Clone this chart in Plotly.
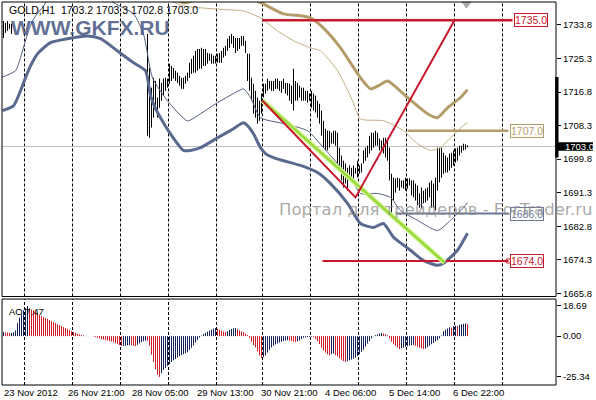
import plotly.graph_objects as go

# ---------------- data ----------------
title_text = "GOLD,H1  1703.2 1703.3 1702.8 1703.0"

# H1 price bars (bar index -> high / low). Bars 5..71 lie above the visible price range.
left_bar_start = 0
left_hi = [1734.8, 1734.3, 1734.8, 1734.1, 1734.1]
left_lo = [1730.5, 1731.8, 1732.3, 1732.8, 1731.5]

main_bar_start = 72
bar_hi = [
    1731.5, 1722.9, 1717.9, 1720.4, 1719.6, 1715.4, 1720.2, 1719.1, 1720.2, 1720.4,
    1720.2, 1724.0, 1723.4, 1722.9, 1722.2, 1721.7, 1720.9, 1720.4, 1720.4, 1720.9,
    1721.7, 1724.2, 1725.2, 1726.0, 1727.2, 1727.7, 1727.7, 1728.0, 1727.7, 1727.7,
    1726.7, 1726.5, 1726.5, 1726.0, 1726.0, 1726.5, 1726.7, 1727.2, 1728.0, 1728.5,
    1730.3, 1731.0, 1731.5, 1731.0, 1730.5, 1730.5, 1730.5, 1731.0, 1731.0, 1729.8,
    1726.5, 1726.5, 1720.4, 1718.9, 1717.1, 1715.4, 1714.6, 1716.4, 1718.9, 1718.9,
    1720.2, 1719.6, 1719.6, 1719.6, 1720.2, 1720.2, 1719.6, 1719.6, 1720.2, 1719.1,
    1719.1, 1718.9, 1718.4, 1722.7, 1719.6, 1719.1, 1718.4, 1717.9, 1717.9, 1717.1,
    1717.1, 1716.4, 1717.1, 1716.4, 1715.9, 1714.6, 1713.8, 1712.1, 1709.5, 1707.5,
    1707.0, 1707.0, 1706.5, 1707.0, 1707.0, 1706.5, 1702.7, 1700.7, 1699.4, 1698.7,
    1697.6, 1698.2, 1697.6, 1698.2, 1697.6, 1699.4, 1698.2, 1698.7, 1702.0, 1702.7,
    1703.2, 1705.7, 1706.5, 1706.5, 1707.0, 1706.5, 1705.0, 1704.5, 1705.2, 1705.2,
    1704.5, 1702.7, 1696.1, 1695.1, 1694.9, 1695.1, 1694.9, 1694.4, 1694.4, 1695.1,
    1694.9, 1694.9, 1694.4, 1694.4, 1693.6, 1693.1, 1691.1, 1692.6, 1691.8, 1692.3,
    1692.6, 1693.9, 1694.4, 1693.6, 1695.1, 1702.7, 1702.7, 1702.7, 1701.4, 1700.7,
    1700.2, 1701.2, 1701.4, 1702.0, 1702.5, 1702.7, 1703.2, 1703.2, 1703.7, 1703.5,
    1703.3,
]
bar_lo = [
    1705.7, 1705.2, 1707.8, 1710.3, 1712.1, 1710.3, 1712.8, 1714.6, 1715.9, 1717.1,
    1717.9, 1718.9, 1719.6, 1720.2, 1719.6, 1719.1, 1718.4, 1717.6, 1717.6, 1718.9,
    1719.6, 1720.4, 1721.4, 1721.7, 1721.7, 1722.2, 1722.7, 1722.7, 1723.4, 1723.4,
    1724.0, 1724.7, 1724.0, 1724.0, 1724.0, 1724.2, 1724.2, 1724.2, 1725.5, 1726.0,
    1727.2, 1728.0, 1729.0, 1728.0, 1726.7, 1727.2, 1727.7, 1728.5, 1728.5, 1726.7,
    1719.6, 1717.1, 1714.6, 1711.3, 1710.3, 1708.8, 1709.5, 1711.3, 1715.4, 1716.4,
    1717.1, 1717.6, 1717.1, 1717.1, 1717.6, 1717.6, 1717.1, 1716.6, 1717.6, 1716.4,
    1715.9, 1714.6, 1713.8, 1712.1, 1714.6, 1714.6, 1715.4, 1714.6, 1714.6, 1714.6,
    1714.1, 1714.6, 1712.8, 1712.1, 1711.6, 1710.3, 1708.8, 1705.7, 1702.7, 1702.0,
    1702.0, 1702.7, 1703.7, 1703.7, 1703.2, 1698.7, 1697.6, 1694.4, 1692.6, 1693.6,
    1691.8, 1694.4, 1695.1, 1694.4, 1696.1, 1695.1, 1696.1, 1696.4, 1698.7, 1699.4,
    1700.2, 1701.2, 1702.0, 1702.7, 1703.2, 1703.2, 1702.0, 1702.0, 1701.2, 1700.2,
    1699.4, 1694.4, 1685.5, 1689.3, 1691.3, 1692.6, 1691.8, 1692.6, 1692.3, 1691.8,
    1692.3, 1693.1, 1690.6, 1690.1, 1689.3, 1688.1, 1687.5, 1687.3, 1688.6, 1688.8,
    1689.3, 1690.1, 1687.5, 1687.5, 1686.8, 1691.8, 1693.9, 1695.1, 1696.1, 1696.4,
    1696.4, 1696.9, 1697.6, 1698.2, 1698.9, 1699.4, 1700.7, 1701.4, 1702.0, 1702.2,
    1702.8,
]

# Awesome Oscillator, one value per bar from bar 0
ao_values = [
    2.5, 2.3, 2.2, 2.0, 2.1, 2.4, 3.5, 8.0, 11.5, 13.5,
    16.0, 17.5, 18.69, 17.2, 16.5, 16.0, 15.2, 14.3, 13.3, 12.5,
    11.8, 11.2, 10.7, 10.0, 9.3, 8.7, 8.1, 7.4, 6.8, 6.2,
    5.6, 5.0, 4.5, 3.8, 3.1, 2.5, 2.0, 1.5, 1.1, 0.7,
    0.4, 0.2, 0.05, 0.0, -0.05, -0.3, -0.6, -1.0, -1.5, -1.9,
    -2.2, -2.5, -2.7, -3.0, -3.4, -3.7, -4.3, -5.0, -5.6, -6.1,
    -6.0, -5.9, -5.7, -5.5, -5.7, -6.0, -6.3, -5.4, -4.5, -3.8,
    -3.2, -2.8, -2.9, -6.0, -11.5, -16.0, -20.5, -24.0, -25.34, -23.0,
    -21.0, -19.8, -18.5, -17.3, -16.0, -15.0, -14.2, -13.3, -12.4, -11.8,
    -11.2, -10.6, -10.0, -8.6, -7.2, -5.8, -4.0, -2.5, -1.0, 0.3,
    1.4, 2.0, 2.8, 3.5, 4.1, 4.6, 5.0, 4.5, 3.9, 3.4,
    2.9, 2.5, 3.0, 3.8, 4.4, 4.8, 5.0, 4.3, 3.6, 3.0,
    2.5, 1.6, 0.7, -1.2, -3.5, -5.5, -7.0, -9.5, -12.0, -13.6,
    -13.0, -12.0, -10.2, -8.5, -7.0, -6.0, -5.2, -4.5, -4.0, -3.5,
    -3.1, -2.8, -2.6, -2.7, -3.0, -3.4, -3.7, -3.3, -2.7, -1.8,
    -1.0, -0.8, -0.6, -0.5, -0.4, -0.6, -1.8, -3.2, -5.0, -7.2,
    -8.9, -10.2, -11.3, -12.0, -11.2, -10.8, -11.8, -12.6, -13.6, -14.6,
    -15.5, -16.1, -15.6, -15.0, -14.5, -14.0, -13.3, -12.3, -11.2, -9.8,
    -8.5, -6.5, -4.6, -3.0, -1.4, -0.2, 0.6, 1.1, 1.6, 1.9,
    1.6, 1.2, 0.6, -1.5, -3.5, -4.8, -6.0, -7.0, -8.0, -7.6,
    -7.2, -6.7, -6.3, -5.9, -5.6, -5.4, -6.0, -6.6, -7.1, -7.6,
    -8.0, -7.8, -6.9, -6.0, -5.0, -4.3, -3.3, -2.5, -1.3, 0.4,
    3.1, 4.0, 4.7, 5.5, 5.2, 6.2, 6.6, 6.3, 7.0, 7.3,
    7.6, 7.9, 7.47,
]

# Envelope / band lines (bar index, price)
lower2_x = [-0.5, 5, 8.5, 11, 13.5, 17, 23.5, 32, 42, 48.5, 57, 65, 71, 73.5, 76, 78.5, 83.5, 90, 93.5, 98.5,
            107, 115, 120, 122.5, 125, 128.5, 131, 135, 143.5, 148.5, 157, 163.5, 172, 178.5, 185, 190, 195,
            203.5, 210, 217, 220, 227, 232]
lower2_y = [1712.1, 1713.3, 1717.1, 1720.4, 1723.4, 1726.5, 1729.3, 1730.3, 1731.0, 1730.3, 1727.2, 1724.2,
            1722.2, 1715.9, 1712.6, 1710.3, 1706.2, 1702.0, 1702.0, 1702.7, 1705.2, 1707.5, 1709.0, 1708.0,
            1706.2, 1702.7, 1701.2, 1700.2, 1698.9, 1698.2, 1696.4, 1693.6, 1688.6, 1683.5, 1682.5, 1683.5,
            1680.0, 1676.7, 1674.1, 1672.9, 1673.4, 1676.7, 1681.0]
lower1_x = [-1.5, 6, 8.5, 12, 15, 20, 23.5, 33.5, 43.5, 53.5, 65, 70, 74.5, 82, 92, 98.5, 107, 115, 120, 123.5,
            128.5, 140, 152, 160, 167, 173.5, 178.5, 187, 193.5, 198.5, 207, 217, 223.5, 230, 232]
lower1_y = [1720.4, 1722.2, 1725.5, 1731.5, 1735.3, 1738.6, 1741.1, 1745.0, 1745.0, 1739.9, 1736.6, 1731.5,
            1720.4, 1714.6, 1709.5, 1711.3, 1714.1, 1716.4, 1717.6, 1715.4, 1710.3, 1708.8, 1707.0, 1702.7,
            1698.7, 1695.1, 1691.1, 1691.1, 1690.1, 1686.8, 1684.3, 1681.7, 1684.3, 1687.5, 1688.8]
upper1_x = [0, 30, 60, 68.5, 78.5, 83.5, 90, 107, 120, 128.5, 137, 145, 153.5, 158.5, 167, 174.5, 178.5, 190,
            200, 207, 213.5, 218.5, 223.5, 230, 232]
upper1_y = [1752, 1760, 1755, 1747.5, 1741.1, 1739.9, 1738.6, 1737.8, 1737.3, 1735.6, 1732.3, 1729.8, 1728.0,
            1727.2, 1722.2, 1714.6, 1710.0, 1709.5, 1707.0, 1703.7, 1702.0, 1702.7, 1705.2, 1708.3, 1709.0]
upper2_x = [0, 30, 60, 68.5, 78.5, 86, 90, 94.5, 98.5, 106, 118.5, 126, 130, 140, 148.5, 153.5, 160, 168.5,
            178.5, 183.5, 187.5, 192, 202, 212, 217, 222, 228.5, 232]
upper2_y = [1748, 1760, 1760, 1750, 1743.7, 1740.4, 1739.4, 1739.9, 1741.1, 1742.4, 1741.9, 1740.1, 1739.1,
            1736.6, 1736.1, 1735.6, 1733.0, 1728.0, 1720.4, 1717.6, 1718.4, 1719.6, 1715.4, 1711.3, 1710.3,
            1712.8, 1715.4, 1717.4]

# Drawn objects
red_trend_x = [129.5, 176.0, 225.5]
red_trend_y = [1714.6, 1690.1, 1735.0]
green_trend_x = [129.5, 220.5]
green_trend_y = [1714.6, 1673.6]
levels = [1735.0, 1707.0, 1686.0, 1674.0]
level_start = [129.5, 202.0, 196.0, 159.5]
level_end = [254.5, 252.5, 252.5, 252.5]
level_colors = ["#c8182c", "#b59d6b", "#6a7894", "#c8182c"]
level_widths = [2.5, 2.5, 2, 2]

current_price = 1703.0
axis_range_marker = [1700.2, 1720.6]   # dark marker drawn on the price scale

# axes
date_labels = ["23 Nov 2012", "26 Nov 21:00", "28 Nov 05:00", "29 Nov 13:00", "30 Nov 21:00",
               "4 Dec 06:00", "5 Dec 14:00", "6 Dec 22:00"]
date_label_bars = [-0.75, 31, 63, 95.5, 127.5, 159.5, 191.5, 223.5]
grid_bars = [10.5, 34.5, 58.5, 82.5, 106.5, 129.5, 153.5, 177.5, 201.5, 225.5, 249.5]
price_ticks = [1733.8, 1725.3, 1716.8, 1708.3, 1699.8, 1691.3, 1682.8, 1674.3, 1665.8]
ao_ticks = [18.69, 0.0, -25.34]
ao_tick_text = ["18.69", "0.00", "-25.34"]

FONT = "Liberation Sans, Arial, sans-serif"
AO_UP = "#14225a"
AO_DOWN = "#d01c28"

# ---------------- figure ----------------
fig = go.Figure()

# price bars as vertical high-low strokes
bx, by = [], []
for i, (h, l) in enumerate(zip(left_hi, left_lo)):
    b = left_bar_start + i
    bx += [b, b, None]
    by += [l, h, None]
for i, (h, l) in enumerate(zip(bar_hi, bar_lo)):
    b = main_bar_start + i
    bx += [b, b, None]
    by += [l, h, None]
fig.add_trace(go.Scatter(x=bx, y=by, mode="lines", line=dict(color="black", width=1),
                         hoverinfo="skip", showlegend=False, xaxis="x", yaxis="y"))

# bands
for xs, ys, col, w in [(upper2_x, upper2_y, "#b39c6a", 3),
                       (upper1_x, upper1_y, "#c4ae84", 1),
                       (lower1_x, lower1_y, "#4f5d7c", 1),
                       (lower2_x, lower2_y, "#5a6a8e", 3)]:
    fig.add_trace(go.Scatter(x=xs, y=ys, mode="lines",
                             line=dict(color=col, width=w, shape="spline", smoothing=0.6),
                             hoverinfo="skip", showlegend=False, xaxis="x", yaxis="y"))

# horizontal levels
for lv, x0, x1, col, w in zip(levels, level_start, level_end, level_colors, level_widths):
    fig.add_trace(go.Scatter(x=[x0, x1], y=[lv, lv], mode="lines", line=dict(color=col, width=w),
                             hoverinfo="skip", showlegend=False, xaxis="x", yaxis="y"))

# trend lines
fig.add_trace(go.Scatter(x=green_trend_x, y=green_trend_y, mode="lines",
                         line=dict(color="#d4f59a", width=5), hoverinfo="skip", showlegend=False))
fig.add_trace(go.Scatter(x=green_trend_x, y=green_trend_y, mode="lines",
                         line=dict(color="#99d93a", width=2.5), hoverinfo="skip", showlegend=False))
fig.add_trace(go.Scatter(x=red_trend_x, y=red_trend_y, mode="lines",
                         line=dict(color="#c8182c", width=2), hoverinfo="skip", showlegend=False))

# small anchor square on the 1674 level
fig.add_trace(go.Scatter(x=[level_end[3]], y=[levels[3]], mode="markers",
                         marker=dict(symbol="square-open", size=4, color="#c8182c", line=dict(width=1)),
                         hoverinfo="skip", showlegend=False))

# chart-shift triangle
fig.add_trace(go.Scatter(x=[231.5], y=[1739.1], mode="markers",
                         marker=dict(symbol="triangle-down", size=9, color="#a8a8a8"),
                         cliponaxis=False, hoverinfo="skip", showlegend=False))

# AO histogram: 1px strokes from zero, coloured by direction
ux, uy, dx, dy = [], [], [], []
for i, v in enumerate(ao_values):
    if i == 0 or v >= ao_values[i - 1]:
        ux += [i, i, None]
        uy += [0, v, None]
    else:
        dx += [i, i, None]
        dy += [0, v, None]
fig.add_trace(go.Scatter(x=ux, y=uy, mode="lines", line=dict(color=AO_UP, width=1),
                         hoverinfo="skip", showlegend=False, xaxis="x", yaxis="y2"))
fig.add_trace(go.Scatter(x=dx, y=dy, mode="lines", line=dict(color=AO_DOWN, width=1),
                         hoverinfo="skip", showlegend=False, xaxis="x", yaxis="y2"))

# ---------------- layout ----------------
MAIN_DOM = [0.2311, 1.0]
AO_DOM = [0.0, 0.2245]

shapes = []
for g in grid_bars:
    for yr in ("y domain", "y2 domain"):
        shapes.append(dict(type="line", xref="x", yref=yr, x0=g, x1=g, y0=0, y1=1,
                           line=dict(color="black", width=1, dash="3px,2px"), layer="below"))
shapes.append(dict(type="line", xref="paper", yref="y", x0=0, x1=1, y0=current_price, y1=current_price,
                   line=dict(color="#c0c0c0", width=1), layer="below"))
shapes.append(dict(type="rect", xref="paper", yref="paper", x0=0, x1=1, y0=MAIN_DOM[0], y1=MAIN_DOM[1],
                   line=dict(color="black", width=1)))
shapes.append(dict(type="rect", xref="paper", yref="paper", x0=0, x1=1, y0=AO_DOM[0], y1=AO_DOM[1],
                   line=dict(color="black", width=1)))
# dark marker on the price scale
shapes.append(dict(type="rect", xref="paper", yref="y", x0=0.9985, x1=1.0045,
                   y0=axis_range_marker[0], y1=axis_range_marker[1],
                   fillcolor="black", line=dict(width=0)))
# current price box on the axis
shapes.append(dict(type="rect", xref="paper", yref="y", x0=1.0, x1=1.0668,
                   y0=current_price - 1.1, y1=current_price + 1.1,
                   fillcolor="black", line=dict(width=0)))

annotations = []
annotations.append(dict(text=title_text, xref="paper", yref="paper", x=0.009, y=0.979, xanchor="left",
                        yanchor="middle", showarrow=False, font=dict(family=FONT, size=10.5, color="black")))
annotations.append(dict(text="<b>WWW.GKFX.RU</b>", xref="paper", yref="paper", x=0.013, y=0.934,
                        xanchor="left", yanchor="middle", showarrow=False,
                        font=dict(family=FONT, size=21, color="rgba(70,86,130,0.85)")))
annotations.append(dict(text="AO 7.47", xref="paper", yref="paper", x=0.009, y=0.193, xanchor="left",
                        yanchor="middle", showarrow=False, font=dict(family=FONT, size=9.5, color="black")))
for lbl, bx0 in zip(date_labels, date_label_bars):
    annotations.append(dict(text=lbl, xref="x", yref="paper", x=bx0, y=-0.0185, xanchor="left",
                            yanchor="middle", showarrow=False,
                            font=dict(family=FONT, size=9.5, color="black")))
for lv, x1, col in zip(levels, level_end, level_colors):
    annotations.append(dict(text=f"{lv:.1f}", xref="x", yref="y", x=x1 + (0.5 if lv == 1735.0 else 0.8),
                            y=lv, xanchor="left", yanchor="middle", showarrow=False,
                            font=dict(family=FONT, size=10.5, color=col), bgcolor="white",
                            bordercolor=col, borderwidth=1, borderpad=0))
annotations.append(dict(text=f"{current_price:.1f}", xref="paper", yref="y", x=1.0125, y=current_price,
                        xanchor="left", yanchor="middle", showarrow=False,
                        font=dict(family=FONT, size=9.5, color="white")))
# watermark drawn on top, semi-transparent
annotations.append(dict(text="Портал для трейдеров - ForTrader.ru", xref="paper", yref="paper",
                        x=0.497, y=0.457, xanchor="left", yanchor="middle", showarrow=False,
                        font=dict(family="DejaVu Sans, sans-serif", size=16.5,
                                  color="rgba(140,140,140,0.75)")))

fig.update_layout(
    width=596, height=400,
    margin=dict(l=2, r=40, t=2, b=15),
    paper_bgcolor="white", plot_bgcolor="white",
    showlegend=False,
    xaxis=dict(range=[-0.75, 276.25], showticklabels=False, showgrid=False, zeroline=False,
               ticks="", anchor="y2", fixedrange=True),
    yaxis=dict(domain=MAIN_DOM, range=[1665.0, 1739.6], side="right", tickvals=price_ticks,
               ticktext=[f"{t:.1f}" for t in price_ticks], ticks="outside", ticklen=4, tickcolor="black",
               showgrid=False, zeroline=False, showline=False, anchor="x",
               tickfont=dict(family=FONT, size=9.5, color="black"), fixedrange=True),
    yaxis2=dict(domain=AO_DOM, range=[-30.3, 23.0], side="right", tickvals=ao_ticks, ticktext=ao_tick_text,
                ticks="outside", ticklen=4, tickcolor="black", showgrid=False, zeroline=False,
                showline=False, anchor="x",
                tickfont=dict(family=FONT, size=9.5, color="black"), fixedrange=True),
    shapes=shapes, annotations=annotations,
)

fig.write_html("out.html", config={"displayModeBar": False},
               post_script="document.body.style.margin='0';document.body.style.overflow='hidden';")
